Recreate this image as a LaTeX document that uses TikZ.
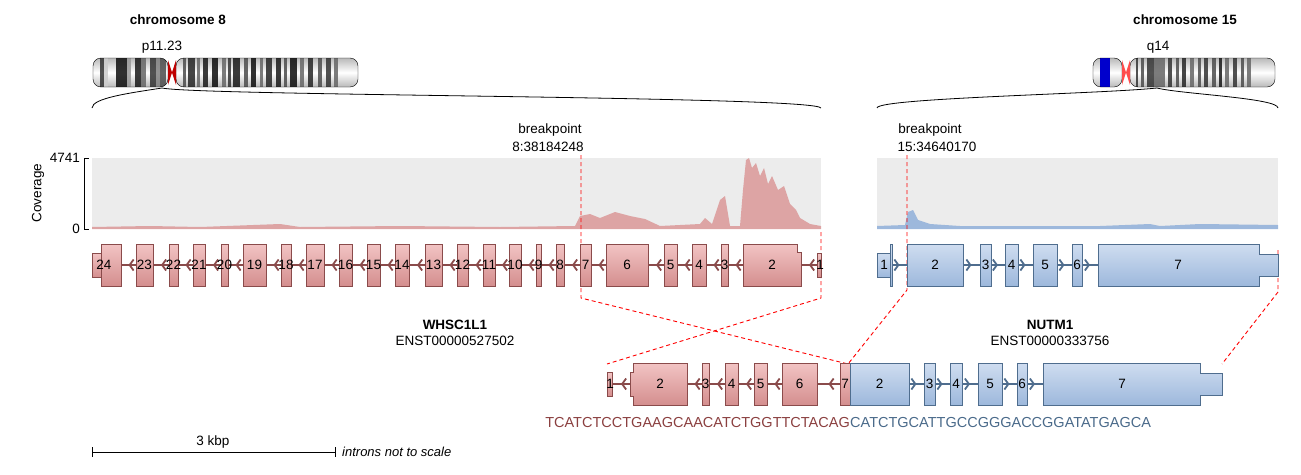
\documentclass[tikz,border=0pt]{standalone}
\usepackage{fontspec}
\setmainfont{Liberation Sans}
\usetikzlibrary{arrows.meta,decorations.markings}
\definecolor{rs}{HTML}{8A4B4B}\definecolor{rt}{HTML}{F2C4C4}\definecolor{rb}{HTML}{D48E8E}
\definecolor{bs}{HTML}{4F6D8E}\definecolor{bt}{HTML}{CFDDF0}\definecolor{bb}{HTML}{9DB8DC}
\definecolor{seqr}{HTML}{8B4040}\definecolor{seqb}{HTML}{4A6A8A}
\tikzset{
 lbl/.style={font=\fontsize{13.5}{15}\selectfont,inner sep=0pt},
 bold/.style={font=\fontsize{13.5}{15}\selectfont\bfseries,inner sep=0pt},
 rex/.style={draw=rs,top color=rt,bottom color=rb,line width=0.9pt},
 bex/.style={draw=bs,top color=bt,bottom color=bb,line width=0.9pt},
 bp/.style={red,dashed,line width=0.9pt,dash pattern=on 4pt off 3pt},
 rin/.style={rs,line width=2.4pt,decoration={markings,mark=at position 0.5 with {\arrow[rs,line width=1.8pt]{Straight Barb[length=4pt,width=11pt]}}},postaction={decorate}},
 bin/.style={bs,line width=2.4pt,decoration={markings,mark=at position 0.5 with {\arrow[bs,line width=1.8pt]{Straight Barb[length=4pt,width=11pt]}}},postaction={decorate}},
}
\newcommand{\Rex}[4]{\draw[rex] (#1,#3-21) rectangle (#2,#3+21); \node[lbl] at ({(#1+#2)/2},#3) {#4};}
\newcommand{\Bex}[4]{\draw[bex] (#1,#3-21) rectangle (#2,#3+21); \node[lbl] at ({(#1+#2)/2},#3) {#4};}
\begin{document}
\begin{tikzpicture}[x=1pt,y=-1pt]
\useasboundingbox (0,0) rectangle (1301,474);
% titles
\node[bold] (c8) at (178,20) {chromosome 8};
\node[bold] (c15) at (1185,20) {chromosome 15};
\node[lbl] (p11) at (162,47) {p11.23};
\node[lbl] (q14) at (1158,47) {q14};
% chromosome 8
\begin{scope}
\clip[rounded corners=8pt] (93,58) rectangle (168,87);
\shade[top color=gray!55,bottom color=gray!55,middle color=white] (93,58) rectangle (168,87);
\foreach \a/\b/\c in {100/104/80,104/108/20,116/127/95,127/131/40,135/141/90,141/146/60,150/156/80,156/160/50,160/166/70}
 \fill[black!\c,opacity=.85] (\a,58) rectangle (\b,87);
\end{scope}
\draw[rounded corners=8pt] (93,58) rectangle (168,87);
\begin{scope}
\clip[rounded corners=8pt] (176,58) rectangle (358,87);
\shade[top color=gray!55,bottom color=gray!55,middle color=white] (176,58) rectangle (358,87);
\foreach \a/\b/\c in {183/186/70,188/195/85,197/200/60,203/208/90,212/218/95,222/226/60,228/231/80,233/240/90,244/248/70,251/256/95,260/263/60,266/272/85,276/281/90,284/287/70,290/297/95,300/304/60,308/313/85,318/322/70,326/331/80,334/338/60}
 \fill[black!\c,opacity=.85] (\a,58) rectangle (\b,87);
\end{scope}
\draw[rounded corners=8pt] (176,58) rectangle (358,87);
\fill[red!75!black] (168,60) -- (172,72.5) -- (168,85) -- cycle;
\fill[red!75!black] (176,60) -- (172,72.5) -- (176,85) -- cycle;
% chromosome 15
\begin{scope}
\clip[rounded corners=8pt] (1093,58) rectangle (1122,87);
\shade[top color=gray!55,bottom color=gray!55,middle color=white] (1093,58) rectangle (1122,87);
\fill[blue!80!black] (1100,58) rectangle (1110,87);
\end{scope}
\draw[rounded corners=8pt] (1093,58) rectangle (1122,87);
\begin{scope}
\clip[rounded corners=8pt] (1130,58) rectangle (1275,87);
\shade[top color=gray!55,bottom color=gray!55,middle color=white] (1130,58) rectangle (1275,87);
\foreach \a/\b/\c in {1136/1138/80,1141/1144/70,1147/1154/80,1154/1165/60,1168/1172/80,1176/1179/70,1182/1186/85,1190/1194/60,1198/1201/70,1204/1208/80,1212/1216/70,1219/1222/90,1225/1229/60,1233/1237/80,1241/1244/70,1247/1251/60}
 \fill[black!\c,opacity=.85] (\a,58) rectangle (\b,87);
\end{scope}
\draw[rounded corners=8pt] (1130,58) rectangle (1275,87);
\fill[red!70] (1122,60) -- (1126,72.5) -- (1122,85) -- cycle;
\fill[red!70] (1130,60) -- (1126,72.5) -- (1130,85) -- cycle;
% brackets
\coordinate (z8) at (162,88); \coordinate (z15) at (1157,88);
\draw[line width=0.8pt] (92,108) .. controls (92,98) and (130,93) .. (z8) .. controls (200,96) and (815,96) .. (821,108);
\draw[line width=0.8pt] (877,108) .. controls (877,98) and (1100,94) .. (z15) .. controls (1180,94) and (1278,98) .. (1278,108);
% coverage
\fill[gray!15] (92,158) rectangle (821,229);
\fill[gray!15] (877,158) rectangle (1278,229);
\draw (84,158) -- (84,229);
\draw (84,158) -- (89,158); \draw (84,229) -- (89,229);
\node[lbl,anchor=east] at (80,158) {4741};
\node[lbl,anchor=east] at (80,229) {0};
\node[lbl,rotate=90] at (38,193) {Coverage};
\fill[rb!80] (92,229) -- (92,227) -- (150,226) -- (200,227) -- (280,224) -- (300,227) -- (400,226) -- (500,227) -- (575,226) -- (580,216) -- (590,214) -- (600,218) -- (615,212) -- (630,216) -- (645,219) -- (660,226) -- (700,224) -- (705,218) -- (712,224) -- (720,200) -- (725,196) -- (730,226) -- (740,226) -- (743,190) -- (746,160) -- (749,158) -- (752,168) -- (756,163) -- (760,176) -- (764,168) -- (768,184) -- (772,176) -- (778,190) -- (784,186) -- (790,204) -- (796,210) -- (800,218) -- (810,224) -- (821,226) -- (821,229) -- cycle;
\fill[bb] (877,229) -- (877,226) -- (905,225) -- (908,212) -- (913,210) -- (918,220) -- (930,224) -- (960,226) -- (1100,226) -- (1150,224) -- (1160,226) -- (1200,224) -- (1278,225) -- (1278,229) -- cycle;
% breakpoint labels
\node[lbl] (bp1) at (550,130) {breakpoint};
\node[lbl] (bp1b) at (548,147) {8:38184248};
\node[lbl] (bp2) at (930,130) {breakpoint};
\node[lbl] (bp2b) at (937,147) {15:34640170};
% dashed lines
\draw[bp] (581,155) -- (581,298) -- (848,364);
\draw[bp] (821,232) -- (821,298) -- (607,364);
\draw[bp] (907,155) -- (907,290) -- (848,364);
\draw[bp] (1278,250) -- (1278,292) -- (1222,364);
% WHSC1L1 gene
\draw[rs,line width=2.4pt] (92,265) -- (821,265);
\foreach \a/\b in {121/136,153/169,178/193,205/221,228/243,266/281,291/306,324/339,352/367,380/395,409/425,442/457,468/483,495/509,521/536,541/556,564/580,591/606,648/664,677/692,706/721,728/743,801/817}
 \draw[rin] (\b,265) -- (\a,265);
\draw[rex] (92,253) rectangle (101,277);
\Rex{101}{121}{265}{}
\node[lbl] at (104,265) {24};
\foreach \a/\b/\n in {136/153/23,169/178/22,193/205/21,221/228/20,243/266/19,281/291/18,306/324/17,339/352/16,367/380/15,395/409/14,425/442/13,457/468/12,483/495/11,509/521/10,536/541/9,556/564/8,580/591/7,606/648/6,664/677/5,692/706/4,721/728/3}
 {\Rex{\a}{\b}{265}{\n}}
\draw[rex] (743,244) -- (797,244) -- (797,252) -- (801,252) -- (801,286) -- (743,286) -- cycle;
\node[lbl] at (772,265) {2};
\draw[rex] (817,253) rectangle (821,277);
\node[lbl] at (820,265) {1};
% NUTM1 gene
\draw[bs,line width=2.4pt] (890,265) -- (1098,265);
\foreach \a/\b in {892/907,963/980,991/1005,1018/1033,1057/1072,1082/1098}
 \draw[bin] (\a,265) -- (\b,265);
\draw[bex] (877,253) rectangle (890,277);
\node[lbl] at (884,265) {1};
\draw[bex] (890,244) rectangle (892,286);
\foreach \a/\b/\n in {907/963/2,980/991/3,1005/1018/4,1033/1057/5,1072/1082/6}
 {\Bex{\a}{\b}{265}{\n}}
\draw[bex] (1098,244) -- (1259,244) -- (1259,254) -- (1278,254) -- (1278,276) -- (1259,276) -- (1259,286) -- (1098,286) -- cycle;
\node[lbl] at (1178,265) {7};
% gene labels
\node[bold] (g1) at (455,325) {WHSC1L1};
\node[lbl] (t1) at (455,341) {ENST00000527502};
\node[bold] (g2) at (1050,325) {NUTM1};
\node[lbl] (t2) at (1050,341) {ENST00000333756};
% fusion
\draw[rs,line width=2.4pt] (608,384) -- (840,384);
\draw[bs,line width=2.4pt] (850,384) -- (1043,384);
\foreach \a/\b in {612/630,687/702,709/725,738/754,767/782,817/840}
 \draw[rin] (\b,384) -- (\a,384);
\foreach \a/\b in {909/924,935/950,962/978,1002/1017,1027/1043}
 \draw[bin] (\a,384) -- (\b,384);
\draw[rex] (607,372) rectangle (612,396); \node[lbl] at (610,384) {1};
\draw[rex] (630,372) -- (633,372) -- (633,363) -- (687,363) -- (687,405) -- (633,405) -- (633,396) -- (630,396) -- cycle;
\node[lbl] at (660,384) {2};
\foreach \a/\b/\n in {702/709/3,725/738/4,754/767/5,782/817/6,840/850/7}
 {\Rex{\a}{\b}{384}{\n}}
\foreach \a/\b/\n in {850/909/2,924/935/3,950/962/4,978/1002/5,1017/1027/6}
 {\Bex{\a}{\b}{384}{\n}}
\draw[bex] (1043,363) -- (1200,363) -- (1200,373) -- (1222,373) -- (1222,395) -- (1200,395) -- (1200,405) -- (1043,405) -- cycle;
\node[lbl] at (1122,384) {7};
% sequence
\node[lbl,anchor=east,text=seqr,font=\fontsize{14.5}{17}\selectfont] (s1) at (850,423) {TCATCTCCTGAAGCAACATCTGGTTCTACAG};
\node[lbl,anchor=west,text=seqb,font=\fontsize{14.5}{17}\selectfont] (s2) at (850,423) {CATCTGCATTGCCGGGACCGGATATGAGCA};
% scale bar
\draw (92,452) -- (335,452); \draw (92,447) -- (92,457); \draw (335,447) -- (335,457);
\node[lbl] (kb) at (213,442) {3 kbp};
\node[lbl,anchor=west,font=\fontsize{13}{15}\selectfont\itshape] (ins) at (342,452) {introns not to scale};
\end{tikzpicture}
\end{document}
